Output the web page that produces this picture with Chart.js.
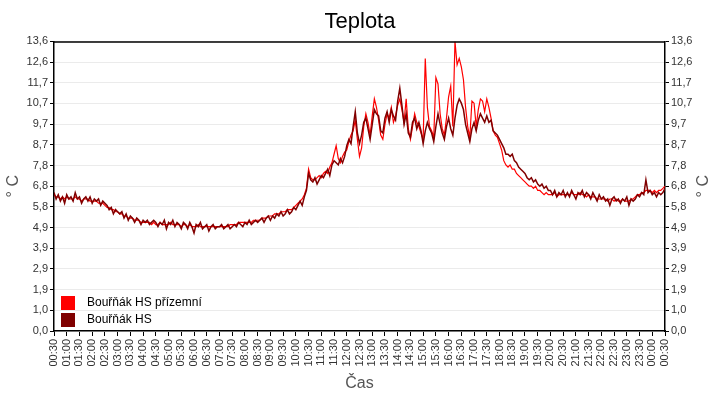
<!DOCTYPE html>
<html lang="cs">
<head>
<meta charset="utf-8">
<title>Teplota</title>
<script src="https://cdn.jsdelivr.net/npm/chart.js@4.4.1/dist/chart.umd.min.js"></script>
<style>
  html, body { margin: 0; padding: 0; background: #fff; }
  #wrap { width: 720px; height: 400px; position: relative; }
</style>
</head>
<body>
<div id="wrap"><canvas id="chartTeplota"></canvas></div>
<script>
// vzorky po 5 minutach, od 00:30 do 00:30 dalsiho dne
const sampleStepMin = 5;

const seriesNames = ["Bouřňák HS přízemní", "Bouřňák HS"];

// Bouřňák HS přízemní
const tempPrizemni = [
    6.4, 6.3, 6.3, 6.2, 6.3, 6.2, 6.3, 6.2, 6.2, 6.2, 6.3, 6.2, 6.2, 6.1, 6.2, 6.2,
    6.2, 6.1, 6.1, 6.1, 6.1, 6.0, 6.0, 6.0, 5.9,
    5.8, 5.8, 5.7, 5.7, 5.6, 5.6,
    5.5, 5.5, 5.4, 5.4, 5.3, 5.3,
    5.3, 5.2, 5.2, 5.2, 5.1, 5.1,
    5.1, 5.1, 5.1, 5.0, 5.1, 5.0, 5.0, 5.1, 5.0, 5.0, 5.0, 5.0, 5.1, 5.0, 5.0, 5.0, 5.0, 4.9, 5.0,
    5.0, 4.9, 5.0, 4.9, 4.9, 4.9, 5.0, 4.9, 4.9, 4.9, 4.9, 4.9, 4.9, 4.9, 4.9, 4.9,
    4.9, 4.9, 4.9, 4.9, 4.9, 5.0, 5.0, 5.0,
    5.0, 5.1, 5.1, 5.1, 5.1, 5.1, 5.1, 5.1, 5.2, 5.2, 5.2,
    5.2, 5.3, 5.3, 5.3, 5.4, 5.4,
    5.4, 5.5, 5.5, 5.5, 5.6, 5.6, 5.6, 5.7, 5.7, 5.7, 5.8, 5.9,
    6.0, 6.1, 6.2, 6.4, 6.7,
    7.6,
    7.2, 7.1, 7.1, 7.2, 7.3, 7.2, 7.4,
    7.5, 7.4, 7.7, 7.9,
    8.3, 8.7,
    8.1, 7.9, 8.2, 8.4,
    8.5, 8.9, 9.2,
    9.4, 9.9, 9.0,
    8.2, 8.6,
    9.6, 10.2, 9.8,
    9.2,
    10.1, 10.9, 10.5,
    9.9,
    9.2, 9.0,
    9.7, 10.2, 10.0, 10.5, 9.8, 10.1,
    10.6, 10.9, 10.4,
    9.8,
    10.9,
    9.5, 9.0,
    9.6, 10.2, 9.8, 9.6, 9.3,
    9.0,
    12.8,
    10.5, 9.6, 9.4,
    9.1,
    11.9, 11.6,
    10.2, 9.5, 9.2,
    10.0, 11.0, 11.5,
    9.6,
    13.6, 12.5, 12.8, 12.4,
    11.8, 10.5,
    9.6,
    9.1,
    10.8, 10.7, 9.6,
    10.4, 10.9, 10.8, 10.3,
    10.9, 10.5, 10.0,
    9.4, 9.2, 9.1,
    8.8, 8.5,
    8.0, 7.8,
    7.7, 7.8, 7.6,
    7.6, 7.4, 7.3,
    7.2, 7.1, 7.0,
    6.9, 6.8, 6.8, 6.7, 6.8, 6.6,
    6.6, 6.5, 6.4, 6.5, 6.4,
    6.4, 6.4, 6.5, 6.3, 6.4, 6.4, 6.4, 6.4,
    6.4, 6.4, 6.5, 6.4, 6.4, 6.4, 6.5, 6.4, 6.4, 6.3, 6.4, 6.3, 6.3, 6.3, 6.2, 6.2, 6.2,
    6.2, 6.2, 6.1, 6.2, 6.2, 6.1, 6.2, 6.1, 6.1, 6.2, 6.1, 6.1, 6.1, 6.2, 6.2,
    6.3, 6.4, 6.4, 6.5, 6.5, 6.6,
    6.6, 6.6, 6.5, 6.6, 6.5, 6.6, 6.6, 6.7, 6.8
];

// Bouřňák HS
const tempHS = [
    6.5, 6.2, 6.4, 6.1, 6.3, 6.0, 6.4, 6.2, 6.3, 6.1, 6.5, 6.2, 6.3, 6.0, 6.2, 6.3,
    6.1, 6.3, 6.0, 6.2, 6.1, 6.2, 5.9, 6.1, 6.0,
    5.9, 5.7, 5.8, 5.5, 5.7, 5.6,
    5.5, 5.6, 5.3, 5.5, 5.2, 5.4,
    5.3, 5.1, 5.3, 5.2, 5.0, 5.2,
    5.1, 5.2, 5.0, 5.1, 5.2, 5.1, 4.9, 5.1, 5.0, 5.2, 4.8, 5.1, 5.0, 5.2, 4.9, 5.1, 5.0, 4.8, 5.1,
    5.0, 4.8, 5.1, 4.9, 4.6, 5.0, 4.9, 5.1, 4.8, 4.9, 5.0, 4.7, 4.9, 5.0, 4.8, 4.9,
    4.9, 5.0, 4.8, 4.9, 5.0, 4.8, 4.9, 5.0,
    4.9, 5.1, 5.0, 4.9, 5.1, 5.0, 5.2, 5.0, 5.1, 5.2, 5.1,
    5.2, 5.3, 5.1, 5.3, 5.4, 5.2,
    5.4, 5.3, 5.5, 5.4, 5.6, 5.4, 5.5, 5.7, 5.5, 5.6, 5.8, 5.7,
    5.9, 6.1, 5.9, 6.3, 6.6,
    7.4,
    7.1, 7.0, 7.2, 6.9, 7.1, 7.3, 7.2,
    7.4, 7.6, 7.3, 7.8,
    8.0, 7.9,
    7.8, 8.1, 7.9, 8.2,
    8.7, 9.0, 8.8,
    9.6, 10.3, 9.3,
    8.8, 9.2,
    9.8, 10.0, 9.5,
    9.0,
    9.7, 10.4, 10.2,
    10.1,
    9.4, 9.3,
    10.0, 10.3, 9.8, 10.4, 10.1, 9.9,
    10.8, 11.4, 10.6,
    9.7,
    10.2,
    9.3, 9.1,
    9.8, 10.0, 9.5, 9.8, 9.4,
    8.8,
    9.4, 9.8, 9.5, 9.3,
    8.9,
    9.6, 10.2,
    9.7, 9.3, 9.0,
    9.6, 10.0, 9.5,
    9.2,
    10.0, 10.6, 10.9, 10.7,
    10.4, 9.7,
    9.3,
    8.9,
    9.5, 9.8, 9.4,
    9.9, 10.2, 10.0, 9.8,
    10.1, 9.8, 9.9,
    9.4, 9.3, 9.2,
    9.0, 8.8,
    8.6, 8.3,
    8.3, 8.2, 8.3,
    8.0, 7.9, 7.7,
    7.6, 7.5, 7.4,
    7.2, 7.1, 7.2, 7.0, 7.1, 6.9,
    6.8, 6.9, 6.7, 6.8, 6.6,
    6.6, 6.4, 6.6, 6.3, 6.5, 6.4, 6.6, 6.3,
    6.5, 6.3, 6.6, 6.4, 6.2, 6.5, 6.4, 6.6, 6.3, 6.5, 6.4, 6.2, 6.5, 6.3, 6.1, 6.4, 6.2,
    6.3, 6.1, 6.2, 5.9, 6.2, 6.3, 6.1, 6.2, 6.0, 6.2, 6.1, 6.3, 5.9, 6.2, 6.1,
    6.2, 6.4, 6.3, 6.5, 6.4, 7.1,
    6.5, 6.6, 6.4, 6.5, 6.3, 6.5, 6.4, 6.5, 6.7
];

const xTickLabels = [
    "00:30", "01:00", "01:30", "02:00", "02:30", "03:00", "03:30", "04:00",
    "04:30", "05:00", "05:30", "06:00", "06:30", "07:00", "07:30", "08:00",
    "08:30", "09:00", "09:30", "10:00", "10:30", "11:00", "11:30", "12:00",
    "12:30", "13:00", "13:30", "14:00", "14:30", "15:00", "15:30", "16:00",
    "16:30", "17:00", "17:30", "18:00", "18:30", "19:00", "19:30", "20:00",
    "20:30", "21:00", "21:30", "22:00", "22:30", "23:00", "23:30", "00:00",
    "00:30"
];
const xTickStepMin = 30;

const yTickLabels = [
    "0,0", "1,0", "1,9", "2,9", "3,9", "4,9", "5,8", "6,8",
    "7,8", "8,7", "9,7", "10,7", "11,7", "12,6", "13,6"
];
const yMax = 13.6;

const seriesColors = ["#ff0000", "#800000"];

/* ---------------------------------------------------------------- */

const FONT = "'Liberation Sans', Arial, sans-serif";
Chart.defaults.font.family = FONT;

const toPoints = arr => arr.map((v, i) => ({ x: i * sampleStepMin, y: v }));
const xMax = (xTickLabels.length - 1) * xTickStepMin;

function yTicks(scale) {
    const n = yTickLabels.length - 1;
    scale.ticks = yTickLabels.map((_, k) => ({ value: k * yMax / n }));
}

// ramecek, legenda uvnitr grafu a popisek prave osy
const extrasPlugin = {
    id: "extras",
    afterDraw(chart) {
        const { ctx, chartArea: a } = chart;
        ctx.save();

        ctx.strokeStyle = "#000";
        ctx.lineWidth = 1.5;
        ctx.beginPath();
        ctx.moveTo(a.left, a.top + 0.5);
        ctx.lineTo(a.right, a.top + 0.5);
        ctx.stroke();

        // legenda
        ctx.font = "12px " + FONT;
        ctx.textBaseline = "middle";
        ctx.textAlign = "left";
        chart.data.datasets.forEach((ds, i) => {
            const y = a.bottom - 35 + i * 17;
            ctx.fillStyle = ds.borderColor;
            ctx.fillRect(a.left + 7, y, 14, 14);
            ctx.fillStyle = "#000";
            ctx.fillText(ds.label, a.left + 33, y + 7);
        });

        // prava osa
        ctx.translate(704, (a.top + a.bottom) / 2);
        ctx.rotate(-Math.PI / 2);
        ctx.font = "16px " + FONT;
        ctx.fillStyle = "#555";
        ctx.textAlign = "center";
        ctx.fillText("° C", 0, 0);

        ctx.restore();
    }
};

const ctx = document.getElementById("chartTeplota");
new Chart(ctx, {
    type: "line",
    data: {
        datasets: [
            {
                label: seriesNames[0],
                data: toPoints(tempPrizemni),
                borderColor: seriesColors[0],
                backgroundColor: seriesColors[0],
                borderWidth: 1.2,
                order: 1
            },
            {
                label: seriesNames[1],
                data: toPoints(tempHS),
                borderColor: seriesColors[1],
                backgroundColor: seriesColors[1],
                borderWidth: 1.5,
                order: 0
            }
        ]
    },
    options: {
        responsive: true,
        maintainAspectRatio: false,
        animation: false,
        parsing: false,
        elements: {
            point: { radius: 0 },
            line: { tension: 0 }
        },
        layout: { padding: 0 },
        scales: {
            x: {
                type: "linear",
                min: 0,
                max: xMax,
                afterBuildTicks: s => {
                    s.ticks = xTickLabels.map((_, k) => ({ value: k * xTickStepMin }));
                },
                afterFit: s => { s.height = 69; },
                ticks: {
                    autoSkip: false,
                    maxRotation: 90,
                    minRotation: 90,
                    padding: 3,
                    color: "#333",
                    font: { size: 11 },
                    callback: (v, i) => xTickLabels[i]
                },
                grid: {
                    drawOnChartArea: false,
                    tickLength: 5,
                    tickColor: "#000"
                },
                border: { color: "#000", width: 1.5 },
                title: {
                    display: true,
                    text: "Čas",
                    color: "#555",
                    font: { size: 16 },
                    padding: { top: 0, bottom: 7 }
                }
            },
            y: {
                position: "left",
                min: 0,
                max: yMax,
                afterBuildTicks: yTicks,
                afterFit: s => { s.width = 54; },
                ticks: {
                    padding: 2,
                    color: "#333",
                    font: { size: 11 },
                    callback: (v, i) => yTickLabels[i]
                },
                grid: {
                    color: "#ebebeb",
                    tickLength: 4,
                    tickColor: "#000"
                },
                border: { color: "#000", width: 1.5 },
                title: {
                    display: true,
                    text: "° C",
                    color: "#555",
                    font: { size: 16 },
                    padding: { top: 4, bottom: 0 }
                }
            },
            y2: {
                position: "right",
                min: 0,
                max: yMax,
                afterBuildTicks: yTicks,
                afterFit: s => { s.width = 55; },
                ticks: {
                    padding: 2,
                    color: "#333",
                    font: { size: 11 },
                    callback: (v, i) => yTickLabels[i]
                },
                grid: {
                    drawOnChartArea: false,
                    tickLength: 4,
                    tickColor: "#000"
                },
                border: { color: "#000", width: 1.5 }
            }
        },
        plugins: {
            legend: { display: false },
            tooltip: { enabled: false },
            title: {
                display: true,
                text: "Teplota",
                color: "#000",
                font: { size: 22, weight: "normal" },
                padding: { top: 9, bottom: 6 }
            }
        }
    },
    plugins: [extrasPlugin]
});
</script>
</body>
</html>
